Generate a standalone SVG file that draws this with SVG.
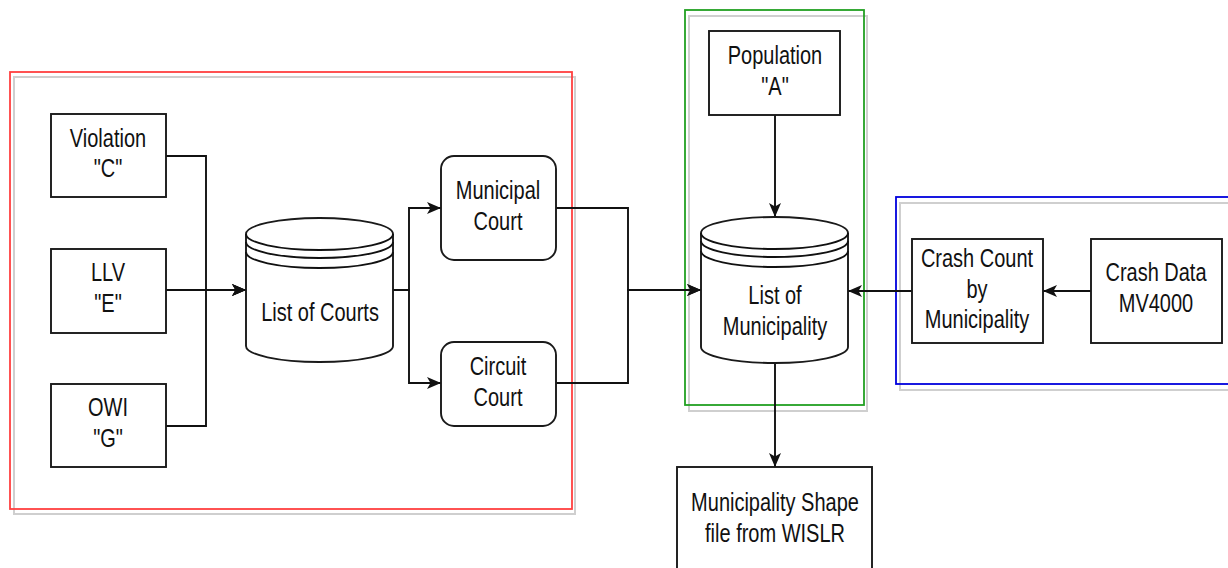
<svg xmlns="http://www.w3.org/2000/svg" width="1228" height="568" viewBox="0 0 1228 568">
<defs>
<style>
.box{fill:#fff;stroke:#1a1a1a;stroke-width:1.9}
.edge{fill:none;stroke:#111;stroke-width:1.9}
.shadow{fill:none;stroke:#cfcfcf;stroke-width:2}
.t{font-family:"Liberation Sans",Arial,sans-serif;font-size:25px;fill:#111;text-anchor:middle;dominant-baseline:central}
</style>
<marker id="arr" markerUnits="userSpaceOnUse" viewBox="0 0 14 12" markerWidth="14" markerHeight="12" refX="14" refY="6" orient="auto">
<path d="M0,0 L14,6 L0,12 L3.5,6 Z" fill="#111"/>
</marker>
</defs>
<rect width="1228" height="568" fill="#fff"/>

<g id="frames">
<rect class="shadow" x="14" y="77" width="561" height="437"/>
<rect x="10" y="72" width="562" height="437" fill="none" stroke="#ff4040" stroke-width="1.8"/>
<rect class="shadow" x="689" y="16" width="178" height="395"/>
<rect x="685" y="10" width="179" height="395" fill="none" stroke="#22a022" stroke-width="1.8"/>
<rect class="shadow" x="900" y="203" width="340" height="187"/>
<rect x="896" y="197" width="340" height="187" fill="none" stroke="#0000dd" stroke-width="1.8"/>
</g>

<g id="connectors">
<path class="edge" d="M166,156 H206 V290 H246" marker-end="url(#arr)"/>
<path class="edge" d="M166,290 H246" marker-end="url(#arr)"/>
<path class="edge" d="M166,426 H206 V290 H246" marker-end="url(#arr)"/>
<path class="edge" d="M393,290 H409 V208 H441" marker-end="url(#arr)"/>
<path class="edge" d="M393,290 H409 V383 H441" marker-end="url(#arr)"/>
<path class="edge" d="M556,208 H628 V290 H701" marker-end="url(#arr)"/>
<path class="edge" d="M556,383 H628 V290 H701" marker-end="url(#arr)"/>
<path class="edge" d="M775,115 V217" marker-end="url(#arr)"/>
<path class="edge" d="M775,363 V467" marker-end="url(#arr)"/>
<path class="edge" d="M912,291 H848" marker-end="url(#arr)"/>
<path class="edge" d="M1091,291 H1043" marker-end="url(#arr)"/>
</g>

<g id="violation">
<rect class="box" x="51" y="114" width="115" height="83"/>
<text class="t" transform="matrix(0.8 0 0 1 108 0)"><tspan x="0" y="138">Violation</tspan><tspan x="0" y="168">"C"</tspan></text>
</g>
<g id="llv">
<rect class="box" x="51" y="249" width="115" height="84"/>
<text class="t" transform="matrix(0.8 0 0 1 108 0)"><tspan x="0" y="272">LLV</tspan><tspan x="0" y="303">"E"</tspan></text>
</g>
<g id="owi">
<rect class="box" x="51" y="384" width="115" height="83"/>
<text class="t" transform="matrix(0.8 0 0 1 108 0)"><tspan x="0" y="407">OWI</tspan><tspan x="0" y="438">"G"</tspan></text>
</g>

<g id="list-of-courts">
<path class="box" d="M246,234 A73.5,16 0 0 1 393,234 V346 A73.5,16 0 0 1 246,346 Z"/>
<path class="edge" d="M246,234 A73.5,16 0 0 0 393,234 M246,242 A73.5,16 0 0 0 393,242 M246,252 A73.5,16 0 0 0 393,252"/>
<text class="t" transform="matrix(0.8 0 0 1 320 0)"><tspan x="0" y="312">List of Courts</tspan></text>
</g>

<g id="municipal-court">
<rect class="box" x="441" y="156" width="115" height="104" rx="13"/>
<text class="t" transform="matrix(0.8 0 0 1 498 0)"><tspan x="0" y="190">Municipal</tspan><tspan x="0" y="221">Court</tspan></text>
</g>
<g id="circuit-court">
<rect class="box" x="441" y="342" width="115" height="84" rx="13"/>
<text class="t" transform="matrix(0.8 0 0 1 498 0)"><tspan x="0" y="366">Circuit</tspan><tspan x="0" y="397">Court</tspan></text>
</g>

<g id="population">
<rect class="box" x="709" y="31" width="131" height="84"/>
<text class="t" transform="matrix(0.8 0 0 1 775 0)"><tspan x="0" y="55">Population</tspan><tspan x="0" y="86">"A"</tspan></text>
</g>

<g id="list-of-municipality">
<path class="box" d="M701,233 A73.5,16 0 0 1 848,233 V347 A73.5,16 0 0 1 701,347 Z"/>
<path class="edge" d="M701,233 A73.5,16 0 0 0 848,233 M701,241 A73.5,16 0 0 0 848,241 M701,251 A73.5,16 0 0 0 848,251"/>
<text class="t" transform="matrix(0.8 0 0 1 775 0)"><tspan x="0" y="295">List of</tspan><tspan x="0" y="326">Municipality</tspan></text>
</g>

<g id="shape-file">
<rect class="box" x="677" y="467" width="195" height="120"/>
<text class="t" transform="matrix(0.8 0 0 1 775 0)"><tspan x="0" y="502">Municipality Shape</tspan><tspan x="0" y="533">file from WISLR</tspan></text>
</g>

<g id="crash-count">
<rect class="box" x="912" y="239" width="131" height="104"/>
<text class="t" transform="matrix(0.8 0 0 1 977 0)"><tspan x="0" y="258">Crash Count</tspan><tspan x="0" y="289">by</tspan><tspan x="0" y="319">Municipality</tspan></text>
</g>
<g id="crash-data">
<rect class="box" x="1091" y="239" width="131" height="104"/>
<text class="t" transform="matrix(0.8 0 0 1 1156 0)"><tspan x="0" y="272">Crash Data</tspan><tspan x="0" y="303">MV4000</tspan></text>
</g>
</svg>
